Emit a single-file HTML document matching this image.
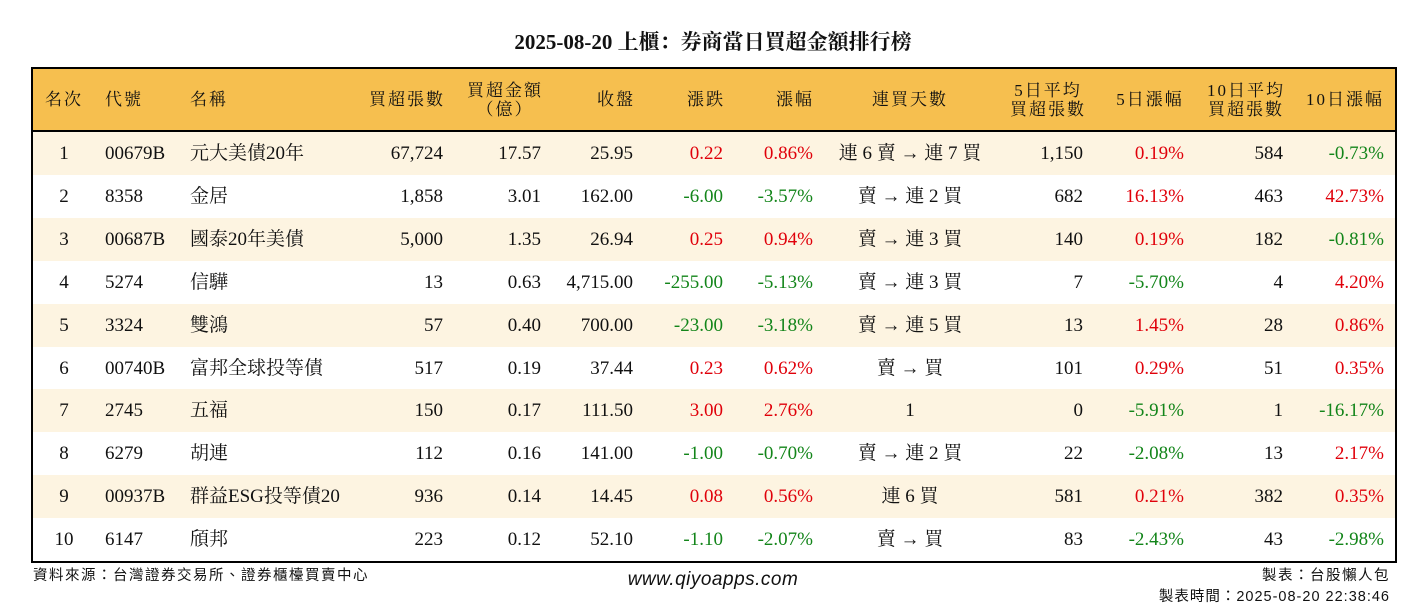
<!DOCTYPE html>
<html><head><meta charset="utf-8">
<style>
body{margin:0;width:1426px;height:612px;background:#fff;position:relative;overflow:hidden;font-family:"Liberation Serif","Noto Serif CJK SC",serif;color:#111}
.a{position:absolute;white-space:nowrap;line-height:1}
#title{left:0;width:1426px;top:32px;text-align:center;font-size:21px;font-weight:bold}
#tbl{position:absolute;left:31px;top:67px;width:1362px;height:492px;border:2px solid #000;}
#hdr{position:absolute;left:0;top:0;width:1362px;height:61px;background:#F6BF4F;border-bottom:3px solid #000}
.h{font-size:17px;letter-spacing:2px;line-height:19px}
.row{position:absolute;left:0;width:1362px;height:43px}
.c{font-size:19px}
.r{color:#E0000A}.g{color:#13851A}
.foot{font-family:"Liberation Sans","Noto Sans CJK TC",sans-serif;font-size:14.5px;letter-spacing:1.5px}
</style></head><body>
<div class="a" id="title">2025-08-20 上櫃：券商當日買超金額排行榜</div>
<div id="tbl">
<div id="hdr"></div>
<div id="body"></div>
</div>
<div class="a foot" style="left:33px;top:569px">資料來源：台灣證券交易所、證券櫃檯買賣中心</div>
<div class="a" style="left:563px;width:300px;text-align:center;top:570px;font-family:'Liberation Sans',sans-serif;font-style:italic;font-size:19px;letter-spacing:0.5px">www.qiyoapps.com</div>
<div class="a foot" style="right:36px;top:569px">製表：台股懶人包</div>
<div class="a foot" style="right:36px;top:590px;letter-spacing:1px">製表時間：2025-08-20 22:38:46</div>
<script>
const ranks=[1,2,3,4,5,6,7,8,9,10];
const codes=["00679B","8358","00687B","5274","3324","00740B","2745","6279","00937B","6147"];
const names=["元大美債20年","金居","國泰20年美債","信驊","雙鴻","富邦全球投等債","五福","胡連","群益ESG投等債20","頎邦"];
const volumes=["67,724","1,858","5,000","13","57","517","150","112","936","223"];
const amounts=["17.57","3.01","1.35","0.63","0.40","0.19","0.17","0.16","0.14","0.12"];
const closes=["25.95","162.00","26.94","4,715.00","700.00","37.44","111.50","141.00","14.45","52.10"];
const changes=["0.22","-6.00","0.25","-255.00","-23.00","0.23","3.00","-1.00","0.08","-1.10"];
const pcts=["0.86%","-3.57%","0.94%","-5.13%","-3.18%","0.62%","2.76%","-0.70%","0.56%","-2.07%"];
const streaks=["連 6 賣 → 連 7 買","賣 → 連 2 買","賣 → 連 3 買","賣 → 連 3 買","賣 → 連 5 買","賣 → 買","1","賣 → 連 2 買","連 6 買","賣 → 買"];
const avg5=["1,150","682","140","7","13","101","0","22","581","83"];
const pct5=["0.19%","16.13%","0.19%","-5.70%","1.45%","0.29%","-5.91%","-2.08%","0.21%","-2.43%"];
const avg10=["584","463","182","4","28","51","1","13","382","43"];
const pct10=["-0.73%","42.73%","-0.81%","4.20%","0.86%","0.35%","-16.17%","2.17%","0.35%","-2.98%"];
const headers=[["名次",31,"c"],["代號",72,"l"],["名稱",157,"l"],["買超張數",412,"r"],["買超金額<br>（億）",472,"c"],["收盤",583,"c"],["漲跌",673,"c"],["漲幅",762,"c"],["連買天數",877,"c"],["5日平均<br>買超張數",1015,"c"],["5日漲幅",1117,"c"],["10日平均<br>買超張數",1213,"c"],["10日漲幅",1312,"c"]];
const hdr=document.getElementById('hdr');
headers.forEach(h=>{
 const d=document.createElement('div');
 
 
 d.className='a h';d.innerHTML=h[0];
 const two=h[0].includes('<br>');
 d.style.top=(two?12:21)+'px';
 if(h[2]=='c'){d.style.left=(h[1]-80)+'px';d.style.width='160px';d.style.textAlign='center';}
 else if(h[2]=='l'){d.style.left=h[1]+'px';}
 else{d.style.right=(1362-h[1])+'px';}
 hdr.appendChild(d);
});
const body=document.getElementById('body');
function cell(row,txt,x,align,cls){
 const d=document.createElement('div');
 
 
 d.className='a c '+(cls||'');d.textContent=txt;d.style.top='12px';
 if(align=='c'){d.style.left=(x-100)+'px';d.style.width='200px';d.style.textAlign='center';}
 else if(align=='l'){d.style.left=x+'px';}
 else{d.style.right=(1364-x)+'px';}
 row.appendChild(d);
}
const col=v=>v.startsWith('-')?'g':'r';
ranks.forEach((rk,i)=>{
 const row=document.createElement('div');
 
 
 row.className='row';row.style.top=(63+i*42.9)+'px';
 row.style.background=i%2==0?'#FDF4E1':'#fff';
 cell(row,rk,31,'c');
 cell(row,codes[i],72,'l');
 cell(row,names[i],157,'l');
 cell(row,volumes[i],412,'r');
 cell(row,amounts[i],510,'r');
 cell(row,closes[i],602,'r');
 cell(row,changes[i],692,'r',col(changes[i]));
 cell(row,pcts[i],782,'r',col(pcts[i]));
 cell(row,streaks[i],877,'c');
 cell(row,avg5[i],1052,'r');
 cell(row,pct5[i],1153,'r',col(pct5[i]));
 cell(row,avg10[i],1252,'r');
 cell(row,pct10[i],1353,'r',col(pct10[i]));
 body.appendChild(row);
});
</script>
</body></html>
